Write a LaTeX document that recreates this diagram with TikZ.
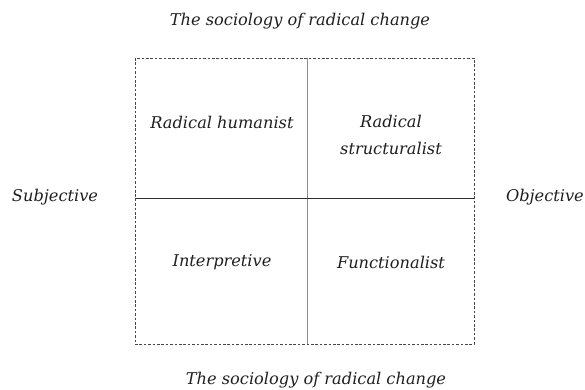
\documentclass[tikz,border=0pt]{standalone}
\usepackage{fontspec}
\setmainfont{DejaVu Serif}
\begin{document}
\begin{tikzpicture}[x=1pt,y=-1pt,
  lbl/.style={font=\itshape\fontsize{16.2}{27}\selectfont, text=black!88, inner sep=0pt, align=center},
  frame/.style={draw=black!72, line width=0.8pt, dash pattern=on 2.6pt off 1.8pt},
  vdiv/.style={draw=black!45, line width=1.5pt},
  hdiv/.style={draw=black!82, line width=0.9pt}]
\useasboundingbox (0,0) rectangle (585,389);
\coordinate (tl) at (135,58);
\coordinate (br) at (474,344);
\coordinate (vt) at (307.5,58);
\coordinate (vb) at (307.5,344);
\coordinate (hl) at (135,198);
\coordinate (hr) at (474,198);
\draw[frame] (tl) rectangle (br);
\draw[vdiv] (vt) -- (vb);
\draw[hdiv] (hl) -- (hr);
\node[lbl] (top) at (300,21) {The sociology of radical change};
\node[lbl] (bottom) at (316,380) {The sociology of radical change};
\node[lbl] (subj) at (55,197) {Subjective};
\node[lbl, anchor=east] (obj) at (584,197) {Objective};
\node[lbl] (rh) at (222,122) {Radical humanist};
\node[lbl] (rs) at (391,135) {Radical\\structuralist};
\node[lbl] (interp) at (222,262) {Interpretive};
\node[lbl] (func) at (391,262) {Functionalist};
\end{tikzpicture}
\end{document}
